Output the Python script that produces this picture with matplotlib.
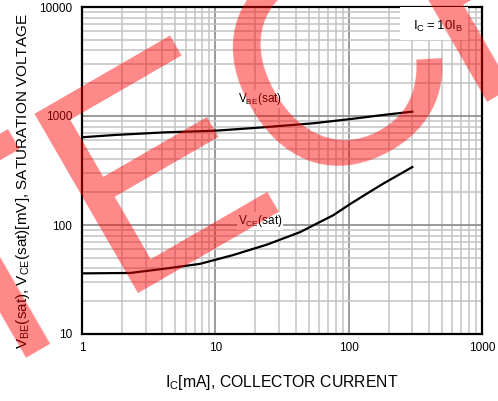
import numpy as np
import matplotlib
matplotlib.use("Agg")
import matplotlib.pyplot as plt
from matplotlib.patches import Rectangle
from matplotlib.ticker import LogLocator, FixedLocator, NullFormatter

plt.rcParams['font.family'] = ['Liberation Sans', 'DejaVu Sans']
plt.rcParams['mathtext.fontset'] = 'custom'
plt.rcParams['mathtext.rm'] = 'Liberation Sans'

## data (Ic in mA, voltage in mV)
ic_vbe = [1, 1.77, 4.2, 10, 22.8, 54, 100, 172, 300]
vbe_sat = [638, 670, 708, 733, 787, 857, 933, 1014, 1096]

ic_vce = [1, 2.3, 4.35, 7.67, 13.6, 24.3, 43.2, 57.6, 76.7, 102, 136, 182, 300]
vce_sat = [36, 36.3, 40, 44, 53, 66, 86, 103, 123, 155, 193, 240, 340]

x_ticks = [1, 10, 100, 1000]
y_ticks = [10, 100, 1000, 10000]

W, H = 498, 401
fig = plt.figure(figsize=(W / 100, H / 100), dpi=100)
ax = fig.add_axes([82 / W, 1 - 334 / H, 400 / W, 327 / H])

ax.set_xscale('log')
ax.set_yscale('log')
ax.set_xlim(1, 1000)
ax.set_ylim(10, 10000)

# grid: light minor lines, darker decade lines
ax.xaxis.set_minor_locator(LogLocator(base=10, subs=np.arange(2, 10)))
ax.yaxis.set_minor_locator(LogLocator(base=10, subs=np.arange(2, 10)))
ax.xaxis.set_minor_formatter(NullFormatter())
ax.yaxis.set_minor_formatter(NullFormatter())
ax.grid(which='minor', color='#c4c4c4', lw=1.1)
ax.grid(which='major', color='#8a8a8a', lw=1.2)
ax.set_axisbelow(True)

ax.xaxis.set_major_locator(FixedLocator(x_ticks))
ax.yaxis.set_major_locator(FixedLocator(y_ticks))
ax.set_xticklabels([str(v) for v in x_ticks])
ax.set_yticklabels([str(v) for v in y_ticks])
ax.tick_params(which='both', length=0, labelsize=8.5, colors='black')
ax.tick_params(axis='x', pad=6)
ax.tick_params(axis='y', pad=7)
for s in ax.spines.values():
    s.set_linewidth(1.6)
    s.set_color('black')

ax.plot(ic_vbe, vbe_sat, color='black', lw=1.6, zorder=3)
ax.plot(ic_vce, vce_sat, color='black', lw=1.6, zorder=3)

ax.text(21.6, 1432, r'$\mathregular{V_{BE}}$(sat)', fontsize=8.5, ha='center', va='center',
        bbox=dict(facecolor='white', edgecolor='none', pad=0.5), zorder=4)
ax.text(21.6, 109, r'$\mathregular{V_{CE}}$(sat)', fontsize=8.5, ha='center', va='center',
        bbox=dict(facecolor='white', edgecolor='none', pad=0.5), zorder=4)

# condition box, top right
ax.add_patch(Rectangle((0.795, 0.899), 0.17, 0.101, transform=ax.transAxes,
                       facecolor='white', edgecolor='none', zorder=4))
ax.text(0.89, 0.939, r'$\mathregular{I_C=10I_B}$', transform=ax.transAxes, fontsize=9.5,
        ha='center', va='center', zorder=5)

fig.text(282 / W, 1 - 383 / H, r'$\mathregular{I_C}$[mA], COLLECTOR CURRENT', fontsize=11.3,
         ha='center', va='center')
fig.text(23 / W, 1 - 181 / H,
         r'$\mathregular{V_{BE}}$(sat), $\mathregular{V_{CE}}$(sat)[mV], SATURATION VOLTAGE',
         fontsize=11, ha='center', va='center', rotation=90)

# red watermark over the chart
wm = dict(fontsize=216, color='red', alpha=0.47, rotation=30, rotation_mode='anchor',
          ha='left', va='baseline', zorder=10)
fig.text(-42.7 / W, 1 - 393.7 / H, 'TEC', **wm)
fig.text(462 / W, 1 - 102 / H, 'H', **wm)

fig.savefig('out.png', dpi=100)
